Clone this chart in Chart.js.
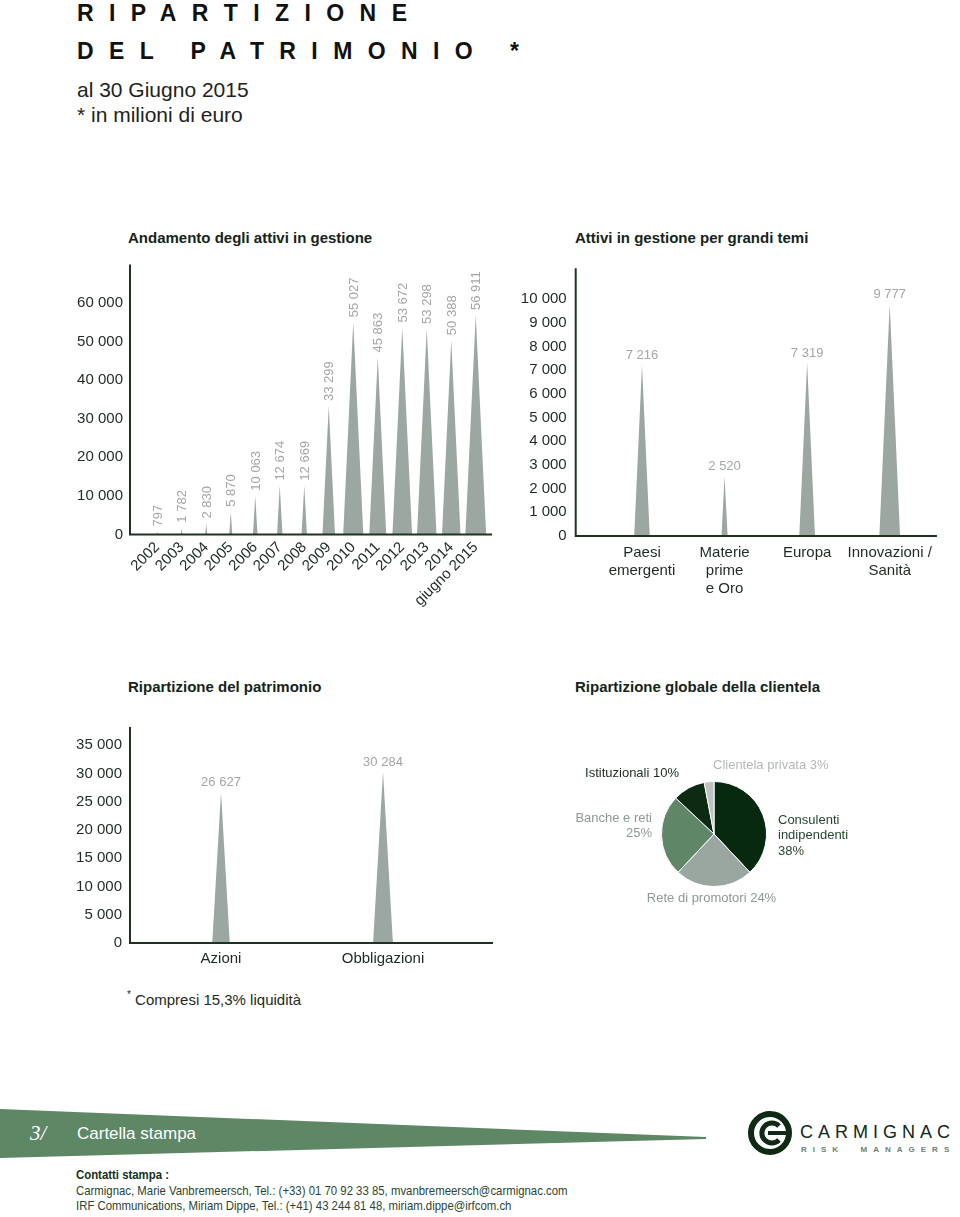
<!DOCTYPE html>
<html lang="it">
<head>
<meta charset="utf-8">
<title>Ripartizione del patrimonio</title>
<script src="https://cdn.jsdelivr.net/npm/chart.js@4.4.1/dist/chart.umd.min.js"></script>
<style>
html, body { margin: 0; padding: 0; background: #fff; }
body {
    width: 960px; height: 1217px; position: relative; overflow: hidden;
    font-family: "Liberation Sans", Arial, sans-serif; color: #1b2a1f;
}
.t { position: absolute; white-space: nowrap; line-height: 1; }
canvas { position: absolute; }
.titolo { font-size: 23px; font-weight: bold; letter-spacing: 15.4px; color: #111; left: 77px; }
.sotto { font-size: 21px; color: #1e2320; left: 77px; }
.sezione { font-size: 15px; font-weight: bold; color: #14241a; }
.contatti {
    left: 76px; font-size: 13.5px; color: #2c4433;
    transform: scaleX(0.843); transform-origin: 0 0;
}
</style>
</head>
<body>

<div class="t titolo" style="top:1.5px">RIPARTIZIONE</div>
<div class="t titolo" style="top:39.5px">DEL PATRIMONIO *</div>
<div class="t sotto" style="top:79px">al 30 Giugno 2015</div>
<div class="t sotto" style="top:104px">* in milioni di euro</div>

<div class="t sezione" style="left:128px;top:230px">Andamento degli attivi in gestione</div>
<div class="t sezione" style="left:575px;top:230px">Attivi in gestione per grandi temi</div>
<div class="t sezione" style="left:128px;top:679px">Ripartizione del patrimonio</div>
<div class="t sezione" style="left:575px;top:679px">Ripartizione globale della clientela</div>

<canvas id="graficoAnni" width="440" height="370" style="left:60px;top:255px"></canvas>
<canvas id="graficoTemi" width="460" height="370" style="left:500px;top:255px"></canvas>
<canvas id="graficoPatrimonio" width="440" height="270" style="left:60px;top:715px"></canvas>
<canvas id="graficoClientela" width="320" height="180" style="left:560px;top:740px"></canvas>

<div class="t" style="left:127px;top:990px;font-size:15px;color:#1e2a22"><span style="font-size:10px;vertical-align:7px">*</span> Compresi 15,3% liquidità</div>

<!-- fascia piè di pagina e logo -->
<svg style="position:absolute;left:0;top:1100px" width="960" height="70">
    <polygon points="0,9 706,37 706,39 0,58" fill="#5e8766"/>
    <circle cx="770" cy="33" r="19" fill="none" stroke="#0f2a14" stroke-width="6"/>
    <path d="M 779 26 A 10 10 0 1 0 779 40" fill="none" stroke="#0f2a14" stroke-width="5"/>
    <line x1="768" y1="33" x2="790" y2="33" stroke="#0f2a14" stroke-width="4"/>
</svg>
<div class="t" style="left:30px;top:1123px;font-family:'Liberation Serif',serif;font-style:italic;font-size:21px;color:#fff">3/</div>
<div class="t" style="left:77px;top:1125px;font-size:17px;color:#fff">Cartella stampa</div>
<div class="t" style="left:800px;top:1123px;font-size:18px;letter-spacing:5px;color:#10281a">CARMIGNAC</div>
<div class="t" style="left:801px;top:1146px;font-size:8px;font-weight:bold;letter-spacing:6px;color:#6b7f70">RISK&nbsp;&nbsp;MANAGERS</div>

<div class="t contatti" style="top:1168px;font-weight:bold;color:#14301c">Contatti stampa :</div>
<div class="t contatti" style="top:1184px">Carmignac, Marie Vanbremeersch, Tel.: (+33) 01 70 92 33 85, mvanbremeersch@carmignac.com</div>
<div class="t contatti" style="top:1199px">IRF Communications, Miriam Dippe, Tel.: (+41) 43 244 81 48, miriam.dippe@irfcom.ch</div>

<script>
// dati

const anni = [
    "2002", "2003", "2004", "2005", "2006", "2007", "2008",
    "2009", "2010", "2011", "2012", "2013", "2014", "giugno 2015"
];

const attiviAnni = [
    797, 1782, 2830, 5870, 10063, 12674, 12669,
    33299, 55027, 45863, 53672, 53298, 50388, 56911
];

const tickAnni = [0, 10000, 20000, 30000, 40000, 50000, 60000];

const temi = [
    ["Paesi", "emergenti"],
    ["Materie", "prime", "e Oro"],
    ["Europa"],
    ["Innovazioni /", "Sanità"]
];

const attiviTemi = [7216, 2520, 7319, 9777];

const tickTemi = [0, 1000, 2000, 3000, 4000, 5000, 6000, 7000, 8000, 9000, 10000];

const classi = ["Azioni", "Obbligazioni"];

const attiviClassi = [26627, 30284];

const tickClassi = [0, 5000, 10000, 15000, 20000, 25000, 30000, 35000];

const clientela = [
    "Consulenti indipendenti",
    "Rete di promotori",
    "Banche e reti",
    "Istituzionali",
    "Clientela privata"
];

const quoteClientela = [38, 24, 25, 10, 3];

// stile

const coloreAssi = "#1f3322";
const colorePunte = "#9ca7a1";
const coloreValori = "#a2a7a4";
const coloreTesto = "#1e2a22";

Chart.defaults.font.family = "'Liberation Sans', Arial, sans-serif";
Chart.defaults.color = coloreTesto;
Chart.defaults.animation = false;

function formatta(v) {
    return String(v).replace(/\B(?=(\d{3})+(?!\d))/g, " ");
}

// niente padding automatico: l'area del grafico la decidono le opzioni
function azzeraPadding(scala) {
    scala.paddingTop = 0;
    scala.paddingBottom = 0;
    scala.paddingLeft = 0;
    scala.paddingRight = 0;
}

const pluginPunte = {

    id: "punte",

    afterDatasetsDraw(chart, args, opts) {

        const ctx = chart.ctx;
        const area = chart.chartArea;
        const base = chart.scales.y.getPixelForValue(0);
        const meta = chart.getDatasetMeta(0);
        const valori = chart.data.datasets[0].data;

        ctx.save();

        meta.data.forEach((bar, i) => {

            const h = base - bar.y;
            const mezza = (h * opts.rapporto + 1) / 2;

            ctx.fillStyle = colorePunte;
            ctx.beginPath();
            ctx.moveTo(bar.x - mezza, base);
            ctx.lineTo(bar.x, bar.y);
            ctx.lineTo(bar.x + mezza, base);
            ctx.closePath();
            ctx.fill();

            ctx.fillStyle = coloreValori;
            ctx.font = "13px 'Liberation Sans', Arial, sans-serif";

            if (opts.verticale) {
                ctx.save();
                ctx.translate(bar.x + 1, bar.y - 5);
                ctx.rotate(-Math.PI / 2);
                ctx.textAlign = "left";
                ctx.textBaseline = "middle";
                ctx.fillText(formatta(valori[i]), 0, 0);
                ctx.restore();
            } else {
                ctx.textAlign = "center";
                ctx.textBaseline = "alphabetic";
                ctx.fillText(formatta(valori[i]), bar.x, bar.y - 6);
            }
        });

        // assi
        const xAsse = area.left - opts.scartoSx;

        ctx.strokeStyle = coloreAssi;
        ctx.lineWidth = 2;
        ctx.beginPath();
        ctx.moveTo(xAsse, area.top);
        ctx.lineTo(xAsse, base);
        ctx.lineTo(area.right + opts.scartoDx, base);
        ctx.stroke();

        ctx.restore();
    }
};

function creaGraficoPunte(id, etichette, valori, ticks, cfg) {

    const canvas = document.getElementById(id);

    return new Chart(canvas, {

        type: "bar",

        data: {
            labels: etichette,
            datasets: [
                {
                    data: valori,
                    backgroundColor: "rgba(0,0,0,0)",
                    borderWidth: 0
                }
            ]
        },

        plugins: [pluginPunte],

        options: {

            responsive: false,
            devicePixelRatio: 1,

            layout: {
                padding: {
                    top: cfg.sopra,
                    right: cfg.destra,
                    left: 0,
                    bottom: 0
                }
            },

            plugins: {
                legend: { display: false },
                tooltip: { enabled: false },
                punte: {
                    rapporto: cfg.rapporto,
                    verticale: cfg.verticale,
                    scartoSx: cfg.scartoSx,
                    scartoDx: cfg.scartoDx
                }
            },

            scales: {

                x: {
                    type: "category",
                    offset: true,
                    grid: { display: false, drawTicks: false },
                    border: { display: false },
                    ticks: {
                        autoSkip: false,
                        minRotation: cfg.rotazione,
                        maxRotation: cfg.rotazione,
                        padding: cfg.paddingX,
                        color: coloreTesto,
                        font: { size: 15, lineHeight: 1.2 }
                    },
                    afterFit: scala => {
                        scala.height = cfg.altezzaX;
                        azzeraPadding(scala);
                    }
                },

                y: {
                    min: 0,
                    max: cfg.massimo,
                    grid: { display: false, drawTicks: false },
                    border: { display: false },
                    ticks: {
                        padding: cfg.paddingY,
                        color: coloreTesto,
                        font: { size: 15 },
                        callback: v => formatta(v)
                    },
                    afterBuildTicks: scala => {
                        scala.ticks = ticks.map(v => ({ value: v }));
                    },
                    afterFit: scala => {
                        scala.width = cfg.larghezzaY;
                        azzeraPadding(scala);
                    }
                }
            }
        }
    });
}

creaGraficoPunte("graficoAnni", anni, attiviAnni, tickAnni, {
    sopra: 9.5, destra: 12, altezzaX: 90.5, larghezzaY: 85,
    massimo: 70000,
    paddingY: 22, paddingX: 4, rotazione: 45,
    rapporto: 0.09, verticale: true, scartoSx: 15, scartoDx: 4
});

creaGraficoPunte("graficoTemi", temi, attiviTemi, tickTemi, {
    sopra: 13.2, destra: 29, altezzaX: 89, larghezzaY: 100.7,
    massimo: 11300,
    paddingY: 34, paddingX: 8, rotazione: 0,
    rapporto: 0.085, verticale: false, scartoSx: 25, scartoDx: 6
});

creaGraficoPunte("graficoPatrimonio", classi, attiviClassi, tickClassi, {
    sopra: 12, destra: 36, altezzaX: 42, larghezzaY: 80,
    massimo: 38200,
    paddingY: 18, paddingX: 7, rotazione: 0,
    rapporto: 0.11, verticale: false, scartoSx: 10, scartoDx: 29
});

// torta della clientela

const etichetteTorta = {

    id: "etichetteTorta",

    afterDraw(chart, args, opts) {

        const ctx = chart.ctx;

        ctx.save();
        ctx.font = "13px 'Liberation Sans', Arial, sans-serif";
        ctx.textBaseline = "middle";

        opts.posizioni.forEach((p, i) => {

            const nome = clientela[i];
            const quota = quoteClientela[i] + "%";
            let righe;

            if (p.righe === "parole")
                righe = nome.split(" ").concat([quota]);
            else if (p.righe === "nomeQuota")
                righe = [nome, quota];
            else
                righe = [nome + " " + quota];

            ctx.fillStyle = p.colore;
            ctx.textAlign = p.allinea;

            righe.forEach((r, k) => {
                ctx.fillText(r, p.x, p.y + k * 15.5);
            });
        });

        ctx.restore();
    }
};

new Chart(document.getElementById("graficoClientela"), {

    type: "pie",

    data: {
        labels: clientela,
        datasets: [
            {
                data: quoteClientela,
                backgroundColor: [
                    "#06290f",
                    "#9aa6a0",
                    "#5f8667",
                    "#0d2a13",
                    "#bec2c0"
                ],
                borderColor: "#ffffff",
                borderWidth: 1
            }
        ]
    },

    plugins: [etichetteTorta],

    options: {

        responsive: false,
        devicePixelRatio: 1,

        layout: {
            padding: { left: 101, right: 113, top: 41, bottom: 33 }
        },

        plugins: {
            legend: { display: false },
            tooltip: { enabled: false },
            etichetteTorta: {
                posizioni: [
                    { x: 218, y: 80, allinea: "left", colore: "#27482d", righe: "parole" },
                    { x: 151.5, y: 158, allinea: "center", colore: "#8e9992", righe: "una" },
                    { x: 92, y: 78, allinea: "right", colore: "#8e9992", righe: "nomeQuota" },
                    { x: 119, y: 33, allinea: "right", colore: "#1c2b20", righe: "una" },
                    { x: 153, y: 25, allinea: "left", colore: "#b3b8b5", righe: "una" }
                ]
            }
        }
    }
});
</script>
</body>
</html>
